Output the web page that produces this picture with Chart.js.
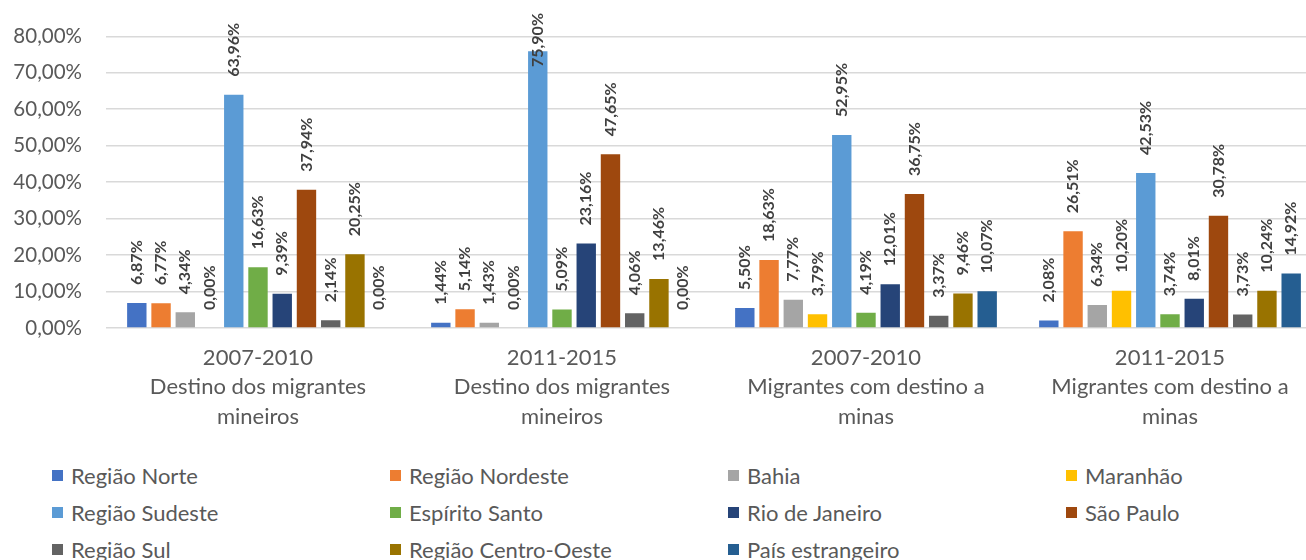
<!DOCTYPE html>
<html>
<head>
<meta charset="utf-8">
<script src="https://cdn.jsdelivr.net/npm/chart.js@4.4.1/dist/chart.umd.min.js"></script>
<style>
  html, body { margin: 0; padding: 0; background: #fff; overflow: hidden; width: 1306px; height: 560px; }
  #wrap { position: relative; width: 1322px; height: 445px; }
  #legend { position: absolute; left: 52px; top: 464px; display: grid; grid-template-columns: repeat(4, 338px); row-gap: 14px;
    font-family: Lato, sans-serif; font-size: 22px; color: #595959; }
  #legend div { display: flex; align-items: center; height: 23px; white-space: nowrap; }
  #legend span { display: inline-block; width: 11px; height: 11px; margin-right: 8px; }
</style>
</head>
<body>
<div id="wrap"><canvas id="myChart"></canvas></div>
<div id="legend"></div>
<script>
const categories = [
  ['2007-2010', 'Destino dos migrantes', 'mineiros'],
  ['2011-2015', 'Destino dos migrantes', 'mineiros'],
  ['2007-2010', 'Migrantes com destino a', 'minas'],
  ['2011-2015', 'Migrantes com destino a', 'minas'],
];

const seriesNames = [
  'Região Norte', 'Região Nordeste', 'Bahia', 'Maranhão',
  'Região Sudeste', 'Espírito Santo', 'Rio de Janeiro', 'São Paulo',
  'Região Sul', 'Região Centro-Oeste', 'País estrangeiro',
];

const regiaoNorte = [6.87, 1.44, 5.50, 2.08];
const regiaoNordeste = [6.77, 5.14, 18.63, 26.51];
const bahia = [4.34, 1.43, 7.77, 6.34];
const maranhao = [0.00, 0.00, 3.79, 10.20];
const regiaoSudeste = [63.96, 75.90, 52.95, 42.53];
const espiritoSanto = [16.63, 5.09, 4.19, 3.74];
const rioDeJaneiro = [9.39, 23.16, 12.01, 8.01];
const saoPaulo = [37.94, 47.65, 36.75, 30.78];
const regiaoSul = [2.14, 4.06, 3.37, 3.73];
const regiaoCentroOeste = [20.25, 13.46, 9.46, 10.24];
const paisEstrangeiro = [0.00, 0.00, 10.07, 14.92];

const yTicks = [0, 10, 20, 30, 40, 50, 60, 70, 80];

const seriesValues = [
  regiaoNorte, regiaoNordeste, bahia, maranhao,
  regiaoSudeste, espiritoSanto, rioDeJaneiro, saoPaulo,
  regiaoSul, regiaoCentroOeste, paisEstrangeiro,
];

const colors = [
  '#4472C4', '#ED7D31', '#A5A5A5', '#FFC000',
  '#5B9BD5', '#70AD47', '#264478', '#9E480E',
  '#636363', '#997300', '#255E91',
];

function pct(v) {
  return v.toFixed(2).replace('.', ',') + '%';
}

// rotated value labels above each bar
const barLabels = {
  id: 'barLabels',
  afterDatasetsDraw(chart) {
    const ctx = chart.ctx;
    ctx.save();
    ctx.font = 'bold 16px Lato';
    ctx.fillStyle = '#404040';
    ctx.textAlign = 'left';
    ctx.textBaseline = 'middle';
    chart.data.datasets.forEach((ds, i) => {
      chart.getDatasetMeta(i).data.forEach((bar, j) => {
        const txt = pct(ds.data[j]);
        const w = ctx.measureText(txt).width;
        let start = bar.y - 18;
        if (start - w < 13) start = 13 + w;
        ctx.save();
        ctx.translate(bar.x, start);
        ctx.rotate(-Math.PI / 2);
        ctx.fillText(txt, 0, 0);
        ctx.restore();
      });
    });
    ctx.restore();
  }
};

const data = {
  labels: categories,
  datasets: seriesNames.map((name, i) => ({
    label: name,
    data: seriesValues[i],
    backgroundColor: colors[i],
    categoryPercentage: 0.877,
    barPercentage: 0.8,
  }))
};

const config = {
  type: 'bar',
  data: data,
  plugins: [barLabels],
  options: {
    responsive: true,
    maintainAspectRatio: false,
    animation: false,
    layout: { padding: { top: 31, right: 0, bottom: 0, left: 0 } },
    plugins: {
      legend: { display: false },
      tooltip: { enabled: false }
    },
    scales: {
      x: {
        grid: { display: false },
        border: { display: false },
        ticks: {
          color: '#595959',
          font: { family: 'Lato', size: 22, lineHeight: 1.34 },
          maxRotation: 0,
          padding: 7
        },
        afterFit(scale) { scale.height = 445 - 328; }
      },
      y: {
        min: 0,
        max: 80,
        afterBuildTicks(scale) { scale.ticks = yTicks.map(v => ({ value: v })); },
        grid: { color: '#d9d9d9', lineWidth: 1.5, drawTicks: false },
        border: { display: false },
        ticks: {
          color: '#595959',
          font: { family: 'Lato', size: 20.5 },
          padding: 24,
          callback: v => pct(v)
        },
        afterFit(scale) { scale.width = 106; }
      }
    }
  }
};

const chart = new Chart(document.getElementById('myChart'), config);

const legendEl = document.getElementById('legend');
chart.data.datasets.forEach(ds => {
  const item = document.createElement('div');
  const box = document.createElement('span');
  box.style.background = ds.backgroundColor;
  item.appendChild(box);
  item.appendChild(document.createTextNode(ds.label));
  legendEl.appendChild(item);
});
</script>
</body>
</html>
